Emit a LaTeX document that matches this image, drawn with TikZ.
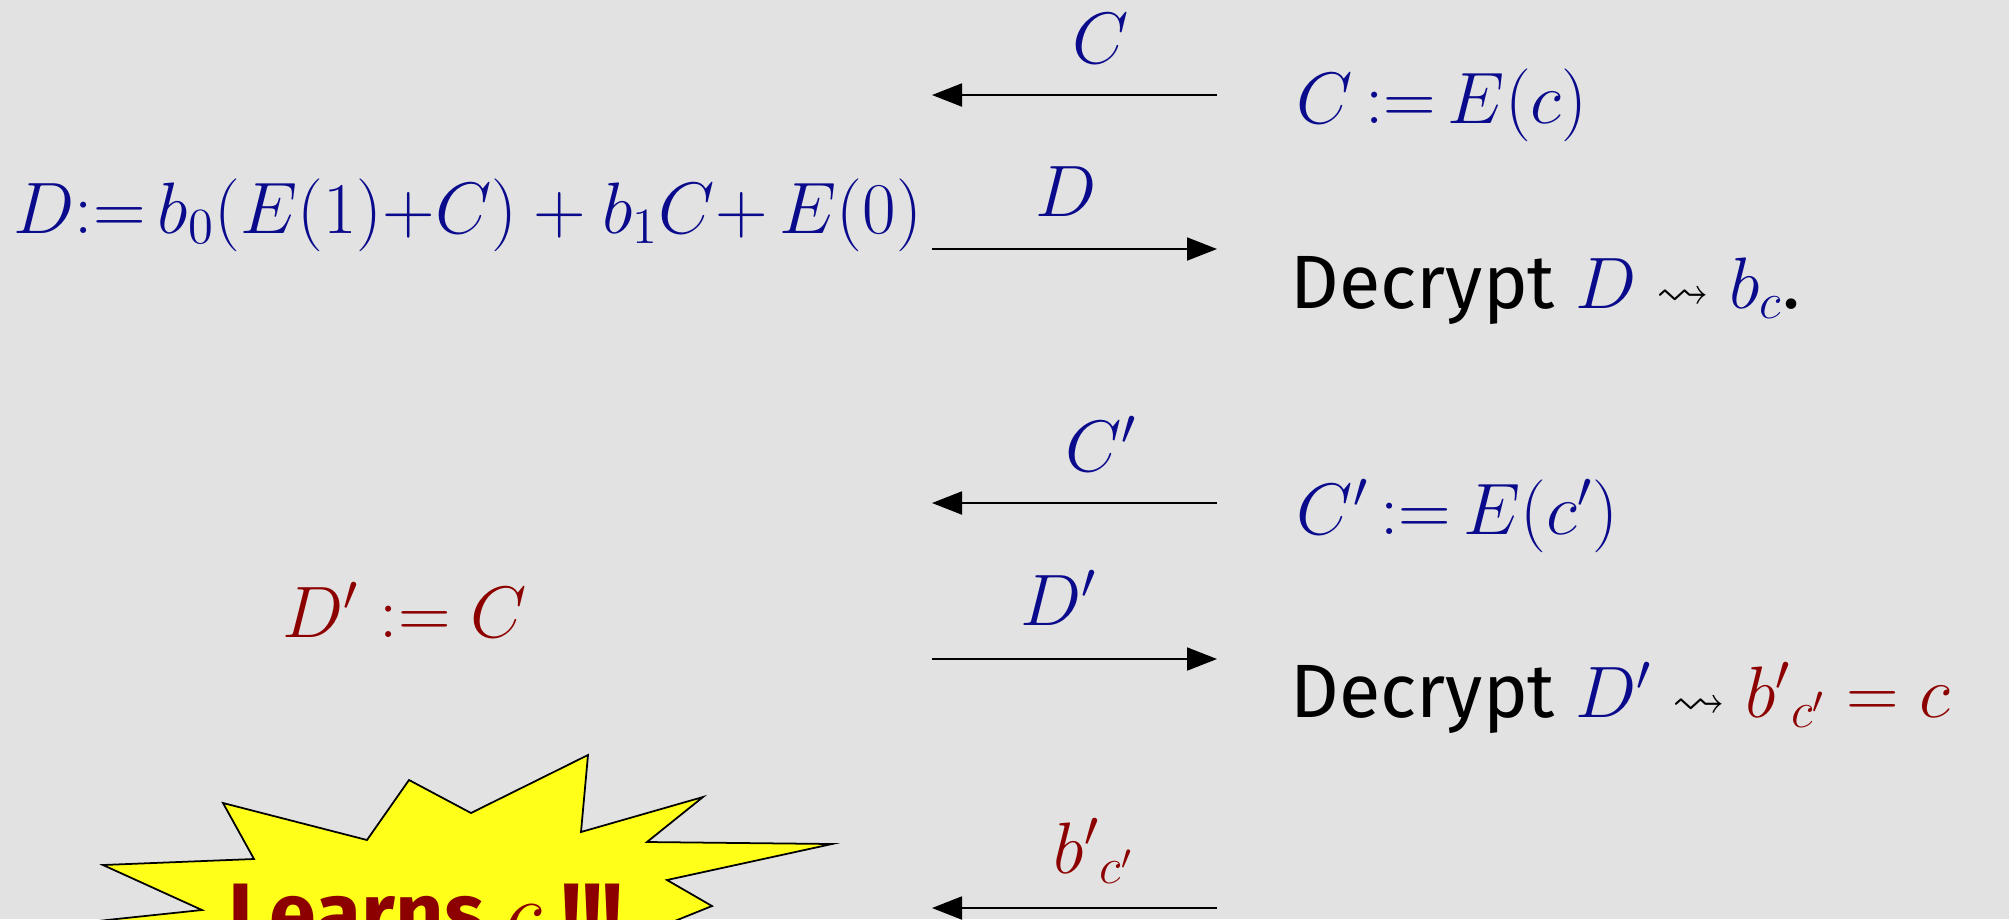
\documentclass[tikz,border=0pt]{standalone}
\usepackage{amsmath,amssymb}
\usepackage{fontspec}
\usepackage{xcolor}
\usepackage{tikz}
\usetikzlibrary{positioning,arrows.meta}
\newfontfamily\handfont{Fira Sans}
\definecolor{mblue}{RGB}{10,10,140}
\definecolor{mred}{RGB}{140,0,0}
\definecolor{bggray}{RGB}{226,226,226}
\definecolor{burst}{RGB}{255,255,25}
\newcommand{\yields}{\mathrel{\scriptstyle\rightsquigarrow}}

\begin{document}
\begin{tikzpicture}[x=0.1mm, y=-0.1mm,
  msg/.style={font=\fontsize{20.5}{24}\selectfont, text=mblue, inner sep=0pt},
  step2/.style={font=\handfont\fontsize{21.5}{25}\selectfont, text=black, inner sep=0pt},
  arr/.style={-{Triangle[length=3mm, width=2.3mm]}, line width=0.55pt, black}]
  % background
  \fill[bggray] (0,0) rectangle (2009,919);
  \useasboundingbox (0,0) rectangle (2009,919);
  % first round
  \node[msg, anchor=base] (lc) at (1101,63) {$C$};
  \node[msg, anchor=base west] (cdef) at (1296,123) {$C\,{:=}\,E(c)$};
  \node[msg, anchor=base west] (ddef) at (13,233) {$D{:=}\,b_0(E(1){+}C) + b_1C{+}\,E(0)$};
  \node[msg, anchor=base] (ld) at (1066,216) {$D$};
  \node[step2, anchor=base west] (dec1) at (1290,308) {Decrypt \textcolor{mblue}{$D$} $\yields$ \textcolor{mblue}{$b_c$}.};
  \coordinate (a1r) at (1217,95);
  \coordinate (a1l) at (932,95);
  \coordinate (a2l) at (932,249);
  \coordinate (a2r) at (1217,249);
  \draw[arr] (a1r) -- (a1l);
  \draw[arr] (a2l) -- (a2r);
  % second round
  \node[msg, anchor=base] (lcp) at (1101,471) {$C'$};
  \node[msg, anchor=base west] (cpdef) at (1296,534) {$C'\,{:=}\,E(c')$};
  \node[msg, anchor=base west, text=mred] (dpdef) at (282,637) {$D' := C$};
  \node[msg, anchor=base] (ldp) at (1059,625) {$D'$};
  \node[step2, anchor=base west] (dec2) at (1290,717) {Decrypt \textcolor{mblue}{$D'$} $\yields$ \textcolor{mred}{${b'}_{c'} = c$}};
  \node[msg, anchor=base, text=mred] (lb) at (1094,873) {${b'}_{c'}$};
  \coordinate (a3r) at (1217,503);
  \coordinate (a3l) at (932,503);
  \coordinate (a4l) at (932,659);
  \coordinate (a4r) at (1217,659);
  \coordinate (a5r) at (1217,908);
  \coordinate (a5l) at (932,908);
  \draw[arr] (a3r) -- (a3l);
  \draw[arr] (a4l) -- (a4r);
  \draw[arr] (a5r) -- (a5l);
  % starburst
  \begin{scope}
    \clip (0,0) rectangle (2009,919);
    \draw[fill=burst, line width=0.5pt] (50,926) -- (202,910) -- (103,865) -- (254,859)
      -- (223,803) -- (367,840) -- (409,780) -- (471,813) -- (588,755) -- (581,832)
      -- (703,797) -- (647,842) -- (832,844) -- (667,880) -- (712,906) -- (640,935)
      -- (640,1000) -- (50,1000) -- cycle;
    \node[step2, anchor=base west, text=mred, font=\handfont\bfseries\fontsize{24}{28}\selectfont] (learn) at (228,942) {Learns $c$ !!!};
  \end{scope}
\end{tikzpicture}
\end{document}
